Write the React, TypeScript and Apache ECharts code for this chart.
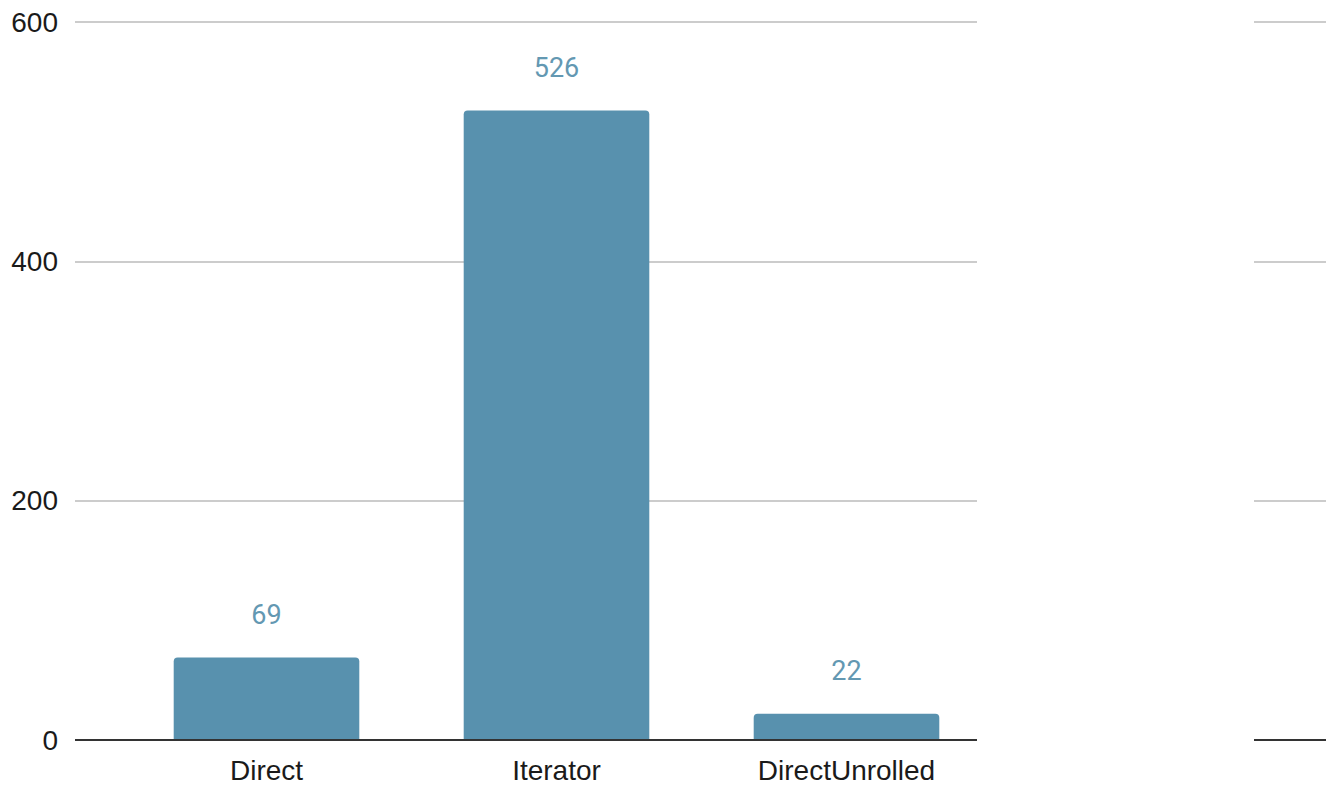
import React, { useEffect, useRef } from "react";
import * as echarts from "echarts";

const categories = ["Direct", "Iterator", "DirectUnrolled"];
const values = [69, 526, 22];
const yMin = 0;
const yMax = 600;
const yInterval = 200;

export default function App() {
  const ref = useRef<HTMLDivElement>(null);
  useEffect(() => {
    if (!ref.current) return;
    const chart = echarts.init(ref.current, undefined, { renderer: "svg" });
    const gridStyle = { lineStyle: { color: "#cccccc", width: 2 } };
    const axisLineStyle = { lineStyle: { color: "#333333", width: 2 } };
    chart.setOption({
      animation: false,
      backgroundColor: "#ffffff",
      grid: [
        { left: 75, top: 22, width: 902, height: 718, containLabel: false },
        { left: 121.5, top: 22, width: 870, height: 718, containLabel: false },
        { left: 1254, top: 22, width: 80, height: 718, containLabel: false },
      ],
      xAxis: [
        {
          gridIndex: 0,
          type: "value",
          min: 0,
          max: 1,
          axisLine: { show: false },
          axisTick: { show: false },
          axisLabel: { show: false },
          splitLine: { show: false },
        },
        {
          gridIndex: 1,
          type: "category",
          data: categories,
          axisLine: { show: false },
          axisTick: { show: false },
          axisLabel: {
            color: "#1a1a1a",
            fontSize: 28,
            fontFamily: "Liberation Sans, Arial, sans-serif",
            margin: 16,
          },
          splitLine: { show: false },
        },
        {
          gridIndex: 2,
          type: "value",
          min: 0,
          max: 1,
          axisLine: { show: false },
          axisTick: { show: false },
          axisLabel: { show: false },
          splitLine: { show: false },
        },
      ],
      yAxis: [
        {
          gridIndex: 0,
          type: "value",
          min: yMin,
          max: yMax,
          interval: yInterval,
          axisLine: { show: false },
          axisTick: { show: false },
          axisLabel: {
            color: "#1a1a1a",
            fontSize: 28,
            fontFamily: "Liberation Sans, Arial, sans-serif",
            margin: 17,
          },
          splitLine: { show: true, ...gridStyle },
        },
        {
          gridIndex: 1,
          type: "value",
          min: yMin,
          max: yMax,
          interval: yInterval,
          axisLine: { show: false },
          axisTick: { show: false },
          axisLabel: { show: false },
          splitLine: { show: false },
        },
        {
          gridIndex: 2,
          type: "value",
          min: yMin,
          max: yMax,
          interval: yInterval,
          axisLine: { show: false },
          axisTick: { show: false },
          axisLabel: { show: false },
          splitLine: { show: true, ...gridStyle },
        },
      ],
      series: [
        {
          type: "bar",
          xAxisIndex: 1,
          yAxisIndex: 1,
          data: values,
          barWidth: "64%",
          itemStyle: { color: "#5891ae", borderRadius: [4, 4, 0, 0] },
          label: {
            show: true,
            position: "top",
            distance: 29,
            color: "#6398b2",
            fontSize: 27,
            fontFamily: "Roboto, sans-serif",
          },
          z: 2,
        },
        {
          type: "line",
          xAxisIndex: 0,
          yAxisIndex: 0,
          data: [
            [0, 0],
            [1, 0],
          ],
          symbol: "none",
          lineStyle: axisLineStyle.lineStyle,
          silent: true,
          z: 3,
        },
        {
          type: "line",
          xAxisIndex: 2,
          yAxisIndex: 2,
          data: [
            [0, 0],
            [1, 0],
          ],
          symbol: "none",
          lineStyle: axisLineStyle.lineStyle,
          silent: true,
          z: 3,
        },
      ],
    });
    return () => chart.dispose();
  }, []);
  return (
    <div
      ref={ref}
      style={{
        position: "absolute",
        left: 0,
        top: 0,
        width: 1326,
        height: 785,
        overflow: "hidden",
      }}
    />
  );
}
